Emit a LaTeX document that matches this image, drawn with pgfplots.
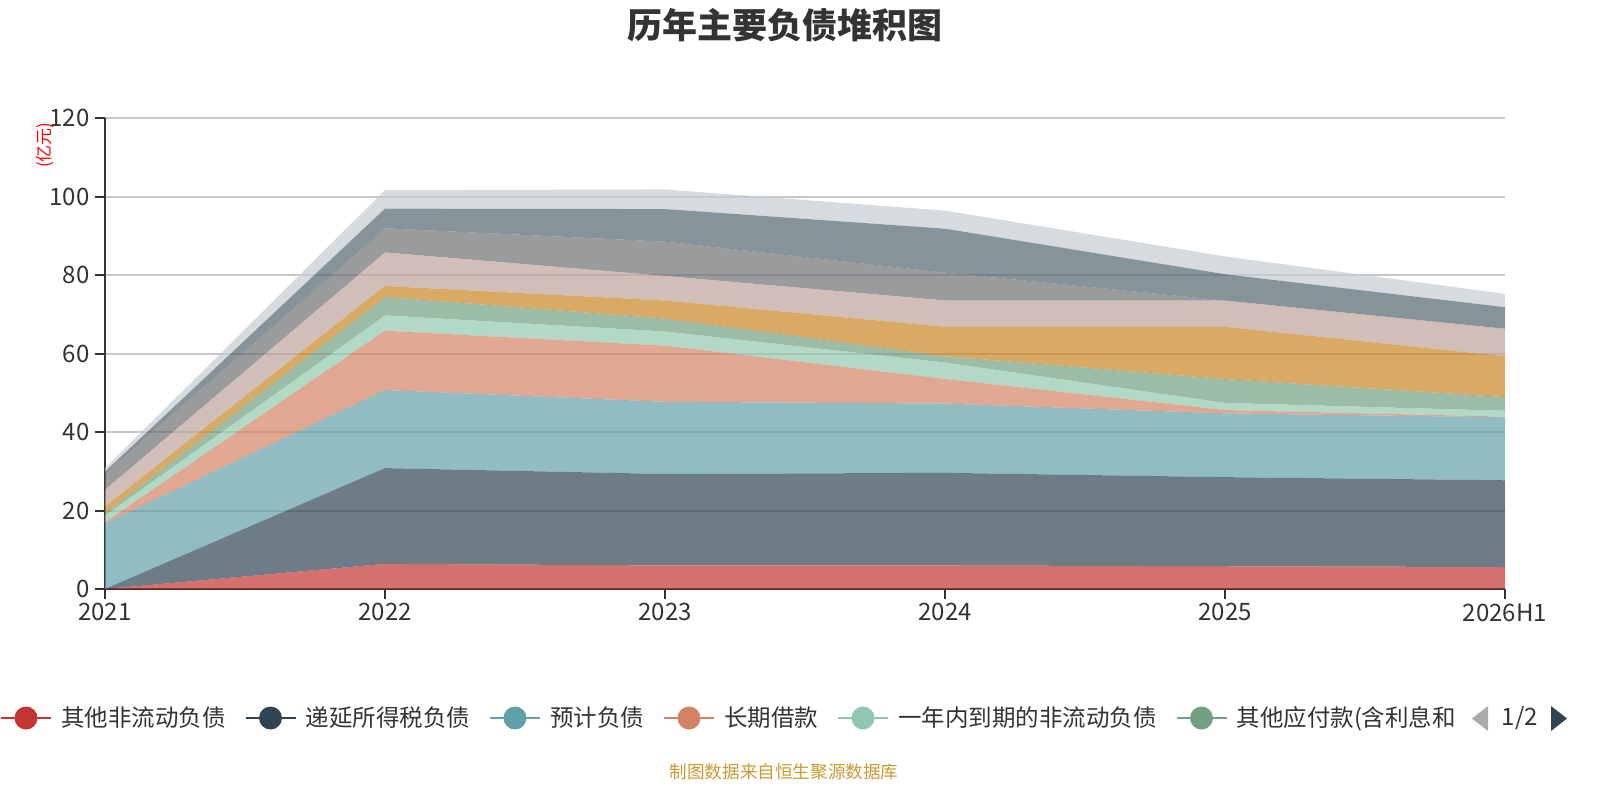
\documentclass[border=0pt]{standalone}
\usepackage{pgfplots}
\pgfplotsset{compat=1.18}
\usepackage{pgfplotstable}
\usepackage{fontspec}
\setmainfont{Noto Sans CJK SC}
\definecolor{c1}{RGB}{194,53,49}
\definecolor{c2}{RGB}{47,69,84}
\definecolor{c3}{RGB}{97,160,168}
\definecolor{c4}{RGB}{212,130,101}
\definecolor{c5}{RGB}{145,199,174}
\definecolor{c6}{RGB}{116,159,131}
\definecolor{c7}{RGB}{202,134,34}
\definecolor{c8}{RGB}{189,162,154}
\definecolor{c9}{RGB}{110,112,116}
\definecolor{c10}{RGB}{84,101,112}
\definecolor{c11}{RGB}{196,204,211}
\definecolor{txt}{RGB}{51,51,51}
\definecolor{src}{RGB}{204,153,51}

% increments of each stacked series (yi yuan), x = 0..5 for 2021..2026H1
\pgfplotstableread{
x s1 s2 s3 s4 s5 s6 s7 s8 s9 s10 s11
0 0 0 16.7 0.3 1.7 0.6 1.7 4.3 4.2 0.4 0.9
1 6.4 24.4 19.9 15.1 3.9 4.7 2.8 8.55 6.15 5.0 4.7
2 6.0 23.3 18.4 14.3 3.6 3.3 4.6 6.25 8.75 8.3 5.0
3 6.0 23.6 17.65 6.25 4.2 1.6 7.5 6.7 7.1 11.2 4.6
4 5.8 22.7 16.25 0.85 1.8 6.1 13.3 6.7 0 6.7 4.55
5 5.6 22.1 16.05 0.15 1.5 3.5 10.4 7.0 0 5.5 3.4
}\data

\pgfplotsset{
  ser/.style={draw=none, fill=#1, fill opacity=0.7, mark=none,
    legend image code/.code={
      \draw[#1, line width=1pt, opacity=1] (0pt,0pt) -- (25pt,0pt);
      \fill[#1, opacity=1] (12.5pt,0pt) circle (5.75pt);
      \path (30pt,0pt);}},
}

\begin{document}
\begin{tikzpicture}[x=1pt,y=1pt]
\useasboundingbox (0,0) rectangle (800,400);
\begin{axis}[
  at={(52.5pt,105.5pt)}, anchor=south west,
  scale only axis, width=700pt, height=235.5pt,
  xmin=0, xmax=5, ymin=0, ymax=120,
  stack plots=y,
  xtick={0,1,2,3,4,5},
  xticklabels={2021,2022,2023,2024,2025,2026H1},
  ytick={0,20,40,60,80,100,120},
  ymajorgrids,
  grid style={line width=1pt, color=black!22},
  axis x line*=bottom, axis y line*=left,
  axis line style={line width=1pt, color=txt, -},
  tick align=outside, major tick length=5pt,
  tick style={line width=1pt, color=txt},
  ticklabel style={font=\fontsize{12}{14}\selectfont, text=txt},
  /pgf/number format/assume math mode=true,
  yticklabel style={anchor=east, inner sep=0pt, xshift=-2.5pt},
  xticklabel style={anchor=north, inner sep=0pt, yshift=-2pt},
  legend columns=-1,
  legend cell align=left,
  legend style={at={(-0.075,-0.27389)}, anchor=west, draw=none, fill=none,
    inner sep=0pt, outer sep=0pt,
    font=\fontsize{11.75}{14}\selectfont, text=txt,
    nodes={inner sep=0pt},
    /tikz/every even column/.append style={column sep=9.5pt}},
]
\addplot[ser=c1] table[x=x,y=s1]{\data} \closedcycle;
\addplot[ser=c2] table[x=x,y=s2]{\data} \closedcycle;
\addplot[ser=c3] table[x=x,y=s3]{\data} \closedcycle;
\addplot[ser=c4] table[x=x,y=s4]{\data} \closedcycle;
\addplot[ser=c5] table[x=x,y=s5]{\data} \closedcycle;
\addplot[ser=c6] table[x=x,y=s6]{\data} \closedcycle;
\addplot[ser=c7] table[x=x,y=s7]{\data} \closedcycle;
\addplot[ser=c8] table[x=x,y=s8]{\data} \closedcycle;
\addplot[ser=c9] table[x=x,y=s9]{\data} \closedcycle;
\addplot[ser=c10] table[x=x,y=s10]{\data} \closedcycle;
\addplot[ser=c11] table[x=x,y=s11]{\data} \closedcycle;
\legend{其他非流动负债,递延所得税负债,预计负债,长期借款,一年内到期的非流动负债,其他应付款(含利息和}
\draw[txt, line width=1pt] (rel axis cs:0,0) -- (rel axis cs:1,0);
\end{axis}
\node[font=\fontsize{17.5}{20}\selectfont\bfseries, text=txt] at (392.25,387.5) {历年主要负债堆积图};
\node[font=\fontsize{8.5}{10}\selectfont, text=red, rotate=90] at (22.5,327.5) {(亿元)};
\node[font=\fontsize{8.8}{10}\selectfont, text=src] at (392,14) {制图数据来自恒生聚源数据库};
\fill[black!33] (744,47) -- (744,34.5) -- (736,40.75) -- cycle;
\node[font=\fontsize{12}{14}\selectfont, text=txt] at (760,41) {1/2};
\fill[c2] (775.5,47) -- (775.5,34.5) -- (783.5,40.75) -- cycle;
\end{tikzpicture}
\end{document}
